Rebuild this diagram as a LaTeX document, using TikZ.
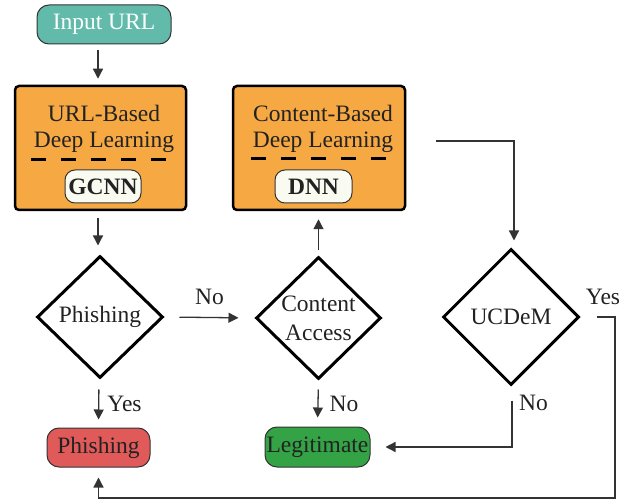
\documentclass[tikz,border=0pt]{standalone}
\usepackage{fontspec}
\setmainfont{Liberation Serif}
\usetikzlibrary{shapes.geometric,arrows.meta}
\definecolor{teal1}{HTML}{62BBAA}
\definecolor{orng}{HTML}{F6A843}
\definecolor{redb}{HTML}{E05A5A}
\definecolor{grn}{HTML}{33A346}
\definecolor{pill}{HTML}{FAFBF0}
\definecolor{ink}{HTML}{222222}
\definecolor{lin}{HTML}{333333}
\begin{document}
\begin{tikzpicture}[x=1pt,y=-1pt,
  every node/.style={font=\fontsize{23.5}{29}\selectfont, text=ink},
  bigbox/.style={draw=black, line width=2.5pt, fill=orng, rounded corners=4pt, minimum width=171pt, minimum height=124pt, inner sep=0pt},
  pillbox/.style={draw=black!80, line width=1pt, fill=pill, rounded corners=10pt, minimum height=33pt, inner sep=0pt, font=\fontsize{23.5}{29}\selectfont\bfseries},
  endbox/.style={draw=black!80, line width=1pt, rounded corners=12pt, minimum height=39pt, inner sep=0pt},
  dec/.style={draw=black, line width=3pt, diamond, inner sep=0pt},
  conn/.style={draw=lin, line width=1.3pt, -{Triangle[length=10pt,width=10pt]}},
  plain/.style={draw=lin, line width=1.3pt},
  sep/.style={draw=black, line width=3pt, dash pattern=on 15pt off 15pt, dash phase=-2pt},
  lbl/.style={inner sep=0pt}]
\useasboundingbox (0,0) rectangle (633,500);

% start
\node[endbox, fill=teal1, minimum width=134pt, text=white] (in) at (104,24.5) {Input URL};

% URL-based box
\node[bigbox] (ub) at (100.5,148) {};
\node[lbl] (ubt1) at (104,113) {URL-Based};
\node[lbl] (ubt2) at (104,142) {Deep Learning};
\coordinate (ud1) at (29,160);
\coordinate (ud2) at (173,160);
\draw[sep] (ud1) -- (ud2);
\node[pillbox, minimum width=76pt] (gc) at (103,186.5) {GCNN};

% content-based box
\node[bigbox, minimum width=172pt] (cb) at (319,148) {};
\node[lbl] (cbt1) at (323,113) {Content-Based};
\node[lbl] (cbt2) at (323,142) {Deep Learning};
\coordinate (cd1) at (249,159);
\coordinate (cd2) at (394,159);
\draw[sep] (cd1) -- (cd2);
\node[pillbox, minimum width=77pt] (dn) at (313.5,186.5) {DNN};

% diamonds
\node[dec, minimum width=126pt, minimum height=122pt, label={[lbl]center:Phishing}] (ph) at (100,317) {};
\node[dec, minimum width=125pt, minimum height=122pt, label={[lbl, align=center]center:Content\\Access}] (ca) at (318.5,318) {};
\node[dec, minimum width=136pt, minimum height=136pt, label={[lbl]center:UCDeM}] (uc) at (511,317) {};

% outcomes
\node[endbox, fill=redb, minimum width=103pt] (pb) at (98.5,447.5) {Phishing};
\node[endbox, fill=grn, minimum width=105pt, minimum height=40pt] (lg) at (317.5,447) {Legitimate};

% connectors
\draw[conn, shorten <=6pt, shorten >=6pt] ([xshift=-6pt]in.south) -- ([xshift=-2.5pt]ub.north);
\draw[conn, shorten <=7pt, shorten >=9pt] ([xshift=-2.5pt]ub.south) -- ([xshift=-2pt]ph.north);
\draw[conn, shorten <=15pt, shorten >=16pt] (ph.east) -- (ca.west) node[lbl, midway, above=12pt] (no1) {No};
\draw[conn, shorten <=10pt, shorten >=8pt] ([xshift=-1pt]ph.south) -- (pb.north) node[lbl, midway, right=8pt, anchor=west] (y1) {Yes};
\draw[conn, shorten <=5pt, shorten >=8pt] (ca.north) -- ([xshift=-0.5pt]cb.south);
\draw[conn, shorten <=9pt, shorten >=9pt] (ca.south) -- (lg.north) node[lbl, midway, anchor=west, xshift=11pt] (n2) {No};
\draw[conn, shorten <=30pt, shorten >=7pt] ([yshift=7pt]cb.east) -| ([xshift=3pt]uc.north);
\draw[conn, shorten <=14pt, shorten >=15pt] ([xshift=1pt]uc.south) |- (lg.east);
\node[lbl, anchor=west] (n3) at (519,403) {No};
\coordinate (c1) at (615,498);
\draw[conn, shorten <=16pt, shorten >=10pt] (uc.east) -| (c1) -| (pb.south);
\node[lbl] (y2) at (603,297) {Yes};
\end{tikzpicture}
\end{document}
